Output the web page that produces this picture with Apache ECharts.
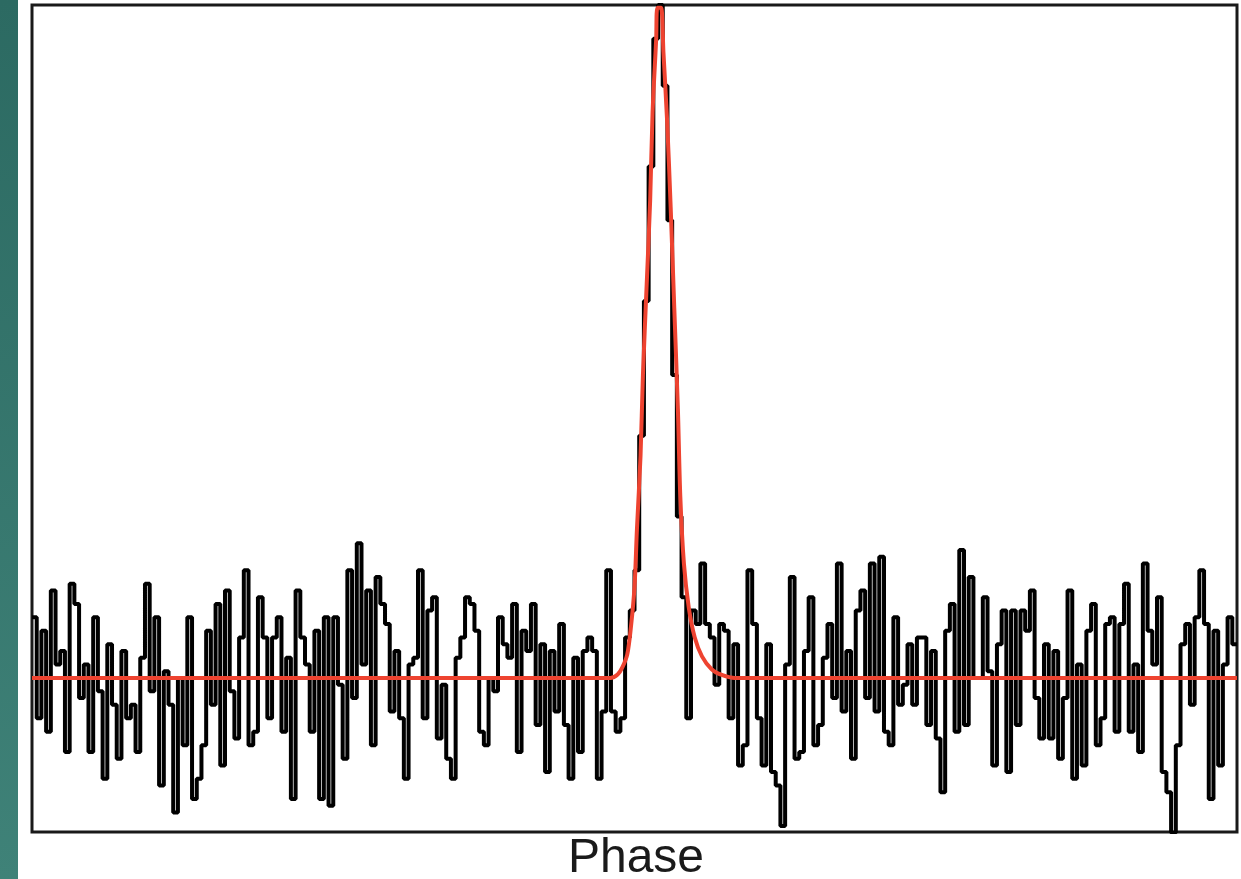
<!DOCTYPE html>
<html>
<head>
<meta charset="utf-8">
<script src="https://cdn.jsdelivr.net/npm/echarts@6/dist/echarts.min.js"></script>
<style>
html,body{margin:0;padding:0;background:#ffffff;}
#chart{width:1241px;height:879px;}
</style>
</head>
<body>
<div id="chart"></div>
<script>
// Pulse profile: intensity per phase bin (baseline = 0, peak = 100)
var profileValues = [
  9, -6, 7, -8, 13, 2, 4, -11, 14, 11, -3, 2, -11, 9, -2, -15, 5, -4, -12, 4,
  -6, -4, -11, 3, 14, -2, 9, -16, 1, -4, -20, 0, -10, 9, -18, -15, -10, 7, -4, 11,
  -13, 13, -2, -9, 6, 16, -10, -8, 12, 6, -6, 6, 9, -8, 3, -18, 13, 6, 2, -8,
  7, -18, 9, -19, 9, -1, -12, 16, -3, 20, 2, 13, -10, 15, 11, 8, -5, 4, -6, -15,
  2, 3, 16, -6, 10, 12, -9, -1, -12, -15, 3, 6, 12, 11, 7, -8, -10, 0, -2, 9,
  5, 3, 11, -11, 7, 4, 11, -7, 5, -14, 4, -5, 8, -7, -15, 3, -11, 4, 6, 4,
  -15, -5, 16, -5, -8, -6, 6, 10, 16, 36, 56, 76, 95, 100, 88, 68, 45, 24, 12, -6,
  10, 8, 17, 8, 6, -1, 8, 7, -6, 5, -13, -10, 16, 8, -6, -13, 5, -14, -16, -22,
  2, 15, -12, -11, 4, 12, -10, -7, 3, 8, -3, 17, -5, 4, -12, 10, 13, -3, 17, -5,
  18, -8, -10, 9, -4, -1, 5, -4, 6, 6, -7, 4, -9, -17, 7, 11, -8, 19, -7, 15,
  0, 0, 12, 1, -13, 5, 10, -14, 10, -7, 10, 7, 13, -3, -9, 5, -9, 4, -12, -3,
  13, -15, 2, -13, 7, 11, -10, -6, 8, 9, -8, 8, 14, -8, 2, -11, 17, 7, 2, 12,
  -14, -17, -23, -10, 5, 8, -4, 9, 16, 8, -18, 7, -13, 2, 9, 5
];
// Fitted template (red curve), read at phase positions
var fitPhase = [0.000, 0.480, 0.486, 0.490, 0.494, 0.497, 0.500, 0.502, 0.505, 0.507,
                0.510, 0.513, 0.515, 0.518, 0.519, 0.522, 0.524, 0.527, 0.530, 0.533,
                0.536, 0.538, 0.541, 0.545, 0.550, 0.556, 0.564, 0.573, 0.583, 1.000];
var fitValue = [0, 0, 0.5, 1.6, 3.5, 7.5, 13.5, 22, 33, 45,
                58, 71, 84, 95, 99.6, 99.6, 93, 83, 70, 55,
                40, 27, 17, 10.5, 6, 3.2, 1.3, 0.4, 0, 0];
var axisTitle = 'Phase';

var nBins = profileValues.length;
var profileData = profileValues.map(function (v, i) { return [i / nBins, v]; });
profileData.push([1, profileValues[nBins - 1]]);
var fitData = fitPhase.map(function (p, i) { return [p, fitValue[i]]; });

var chart = echarts.init(document.getElementById('chart'), null, {renderer: 'canvas'});
chart.setOption({
  animation: false,
  backgroundColor: '#ffffff',
  grid: {
    left: 32, top: 5, right: 4, bottom: 47,
    show: true, borderColor: '#1a1a1a', borderWidth: 3, backgroundColor: '#ffffff'
  },
  xAxis: {
    type: 'value', min: 0, max: 1,
    axisLine: {show: false}, axisTick: {show: false},
    axisLabel: {show: false}, splitLine: {show: false}
  },
  yAxis: {
    type: 'value', min: -22.9, max: 100,
    axisLine: {show: false}, axisTick: {show: false},
    axisLabel: {show: false}, splitLine: {show: false}
  },
  series: [
    {
      type: 'line', step: 'end', data: profileData, showSymbol: false,
      lineStyle: {color: '#000000', width: 4}, z: 2
    },
    {
      type: 'line', smooth: 0.3, data: fitData, showSymbol: false,
      lineStyle: {color: '#ee4330', width: 4}, z: 3
    }
  ],
  graphic: [
    {
      type: 'rect', left: 0, top: 0, z: 10,
      shape: {width: 18, height: 879},
      style: {fill: new echarts.graphic.LinearGradient(0, 0, 0, 1, [
        {offset: 0, color: '#2c6a62'}, {offset: 1, color: '#3f8278'}
      ])}
    },
    {
      type: 'text', x: 636, y: 859, z: 10,
      style: {
        text: axisTitle, fill: '#1a1a1a',
        font: '48px "Liberation Sans", Arial, sans-serif',
        textAlign: 'center', textVerticalAlign: 'middle'
      }
    }
  ]
});
</script>
</body>
</html>
